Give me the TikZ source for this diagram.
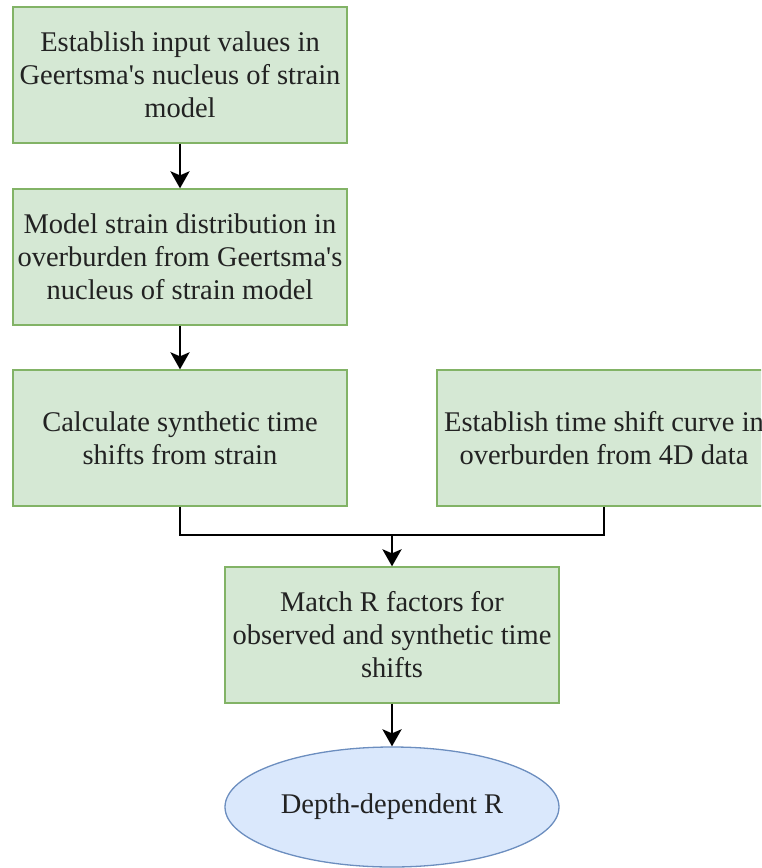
\documentclass[tikz,border=0pt]{standalone}
\usepackage{fontspec}
\setmainfont{Liberation Serif}
\usetikzlibrary{arrows.meta,shapes.geometric}
\definecolor{boxfill}{HTML}{D5E8D4}
\definecolor{boxline}{HTML}{82B366}
\definecolor{endfill}{HTML}{DAE8FC}
\definecolor{endline}{HTML}{6C8EBF}
\definecolor{inktext}{HTML}{222222}
\begin{document}
\begin{tikzpicture}[x=1pt,y=-1pt,
  stepbox/.style={draw=boxline, fill=boxfill, line width=1.3pt,
    minimum width=334pt, minimum height=136pt, inner sep=0pt,
    align=center, text=inktext, font=\fontsize{28.5}{33}\selectfont},
  endbox/.style={ellipse, draw=endline, fill=endfill, line width=1.3pt,
    minimum width=334pt, minimum height=120pt, inner sep=0pt,
    align=center, text=inktext, font=\fontsize{28.5}{33}\selectfont},
  link/.style={draw=black, line width=2.8pt},
  flow/.style={link, -{Stealth[length=17pt,width=19pt,inset=4pt]}}]
\useasboundingbox (0,0) rectangle (761,868);
\clip (0,0) rectangle (761,868);

% process steps
\node[stepbox] (b1) at (180,75)
  {Establish input values in\\Geertsma\textquotesingle s nucleus of strain\\model};
\node[stepbox] (b2) at (180,257)
  {Model strain distribution in\\overburden from Geertsma\textquotesingle s\\nucleus of strain model};
\node[stepbox] (b3) at (180,438)
  {Calculate synthetic time\\shifts from strain};
\node[stepbox] (b4) at (604,438)
  {Establish time shift curve in\\overburden from 4D data};
\node[stepbox] (b5) at (392,635)
  {Match R factors for\\observed and synthetic time\\shifts};
\node[endbox] (r) at (392,807) {Depth-dependent R};

% connectors
\coordinate (join) at (392,535);
\draw[flow] (b1) -- (b2);
\draw[flow] (b2) -- (b3);
\draw[link, line join=miter] (b3.south) |- (join) -| (b4.south);
\draw[flow] (join) -- (b5.north);
\draw[flow] (b5) -- (r);
\end{tikzpicture}
\end{document}
